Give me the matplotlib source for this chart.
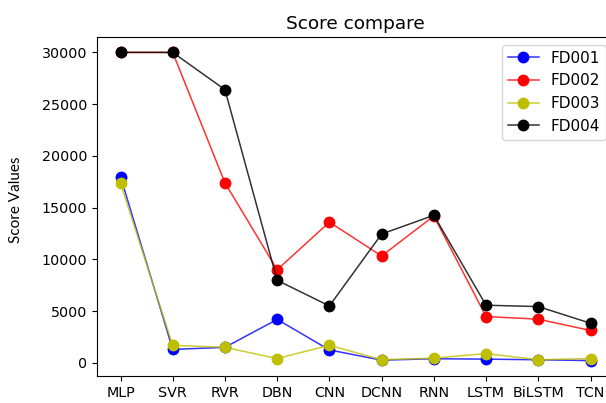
import matplotlib
matplotlib.use("Agg")
import matplotlib.pyplot as plt
from matplotlib.colors import to_rgba

models = ["MLP", "SVR", "RVR", "DBN", "CNN", "DCNN", "RNN", "LSTM", "BiLSTM", "TCN"]
fd001 = [18000, 1300, 1500, 4200, 1250, 260, 400, 360, 300, 220]
fd002 = [30000, 30000, 17400, 9000, 13600, 10330, 14190, 4480, 4220, 3130]
fd003 = [17350, 1700, 1500, 420, 1700, 300, 450, 900, 300, 420]
fd004 = [30000, 30000, 26400, 7980, 5500, 12450, 14260, 5570, 5440, 3830]

fig = plt.figure(figsize=(6.06, 4.03), dpi=100)
ax = fig.add_axes([97 / 606, 27 / 403, 517 / 606, 339 / 403])

for vals, col, name in [(fd001, "b", "FD001"), (fd002, "r", "FD002"),
                        (fd003, "y", "FD003"), (fd004, "k", "FD004")]:
    ax.plot(models, vals, color=to_rgba(col, 0.8), marker="o", markersize=7.5,
            markerfacecolor=col, markeredgecolor=col,
            linewidth=1.1, label=name)

ax.set_title("Score compare", fontsize=13.3)
ax.set_ylabel("Score Values", fontsize=11, family=["Lato", "DejaVu Sans"])
ax.yaxis.set_label_coords(-0.143, 0.52)
ax.tick_params(labelsize=10.3)
ax.legend(loc="upper right", fontsize=11)

fig.savefig("out.png", dpi=100)
